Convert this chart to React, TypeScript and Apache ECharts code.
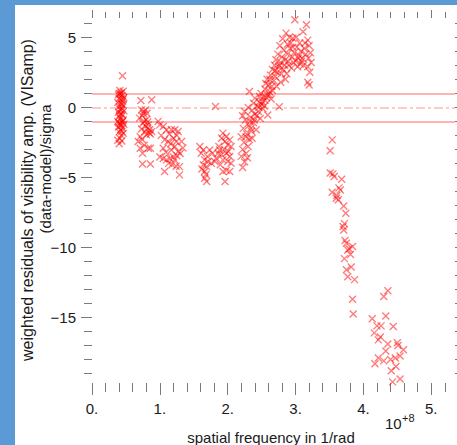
import React, { useEffect, useRef } from "react";
import * as echarts from "echarts";

// spatial frequency (units of 1e8 1/rad), weighted residual (sigma)
const cluster1: number[][] = [
  [0.45, 2.25], [0.41, 1.2], [0.46, 1.15], [0.43, 1.05], [0.39, 0.9], [0.44, 0.85], [0.47, 0.7], [0.40, 0.65],
  [0.42, 0.55], [0.45, 0.45], [0.38, 0.35], [0.43, 0.3], [0.46, 0.15], [0.40, 0.05], [0.44, -0.05], [0.41, -0.15],
  [0.47, -0.25], [0.39, -0.35], [0.43, -0.45], [0.45, -0.55], [0.40, -0.65], [0.42, -0.8], [0.46, -0.9], [0.38, -1.0],
  [0.44, -1.05], [0.41, -1.15], [0.47, -1.2], [0.43, -1.3], [0.39, -1.4], [0.45, -1.5], [0.42, -1.6], [0.40, -1.75],
  [0.46, -1.85], [0.43, -2.0], [0.41, -2.2], [0.38, -2.35], [0.44, -2.4], [0.40, -2.6], [0.42, 0.95], [0.44, 0.2],
  [0.41, -0.55], [0.45, -1.0], [0.39, -1.1], [0.43, -0.2], [0.46, 0.6], [0.40, 1.0], [0.42, -1.25], [0.44, -1.7],
];
const cluster2: number[][] = [
  [0.72, 0.49], [0.88, 0.54], [0.73, -0.18], [0.79, -0.18], [0.81, -0.42], [0.76, -0.3], [0.70, -0.77], [0.80, -0.89],
  [0.74, -0.6], [0.77, -1.0], [0.75, -1.13], [0.83, -1.25], [0.79, -1.35], [0.85, -1.6], [0.88, -1.73], [0.78, -1.73],
  [0.82, -1.5], [0.86, -1.9], [0.80, -1.95], [0.84, -1.8], [0.73, -1.55], [0.71, -2.1], [0.68, -2.44], [0.74, -2.3],
  [0.71, -2.92], [0.745, -3.27], [0.83, -2.92], [0.86, -2.92], [0.77, -2.7], [0.745, -4.04], [0.86, -4.04], [0.76, -0.45],
  [0.82, -1.05],
];
const cluster3: number[][] = [
  [0.975, -1.0], [1.0, -1.25], [1.05, -1.37], [1.10, -1.6], [1.17, -1.6], [1.22, -1.6], [1.27, -1.73], [1.14, -1.9],
  [1.25, -2.0], [1.07, -2.32], [1.12, -2.44], [1.20, -2.2], [1.245, -2.44], [1.32, -2.44], [1.05, -2.92], [1.22, -2.8],
  [1.17, -3.04], [1.27, -3.15], [1.00, -3.55], [1.05, -3.65], [1.10, -3.75], [1.15, -3.65], [1.20, -3.55], [1.22, -3.75],
  [1.25, -3.45], [1.30, -3.3], [1.13, -4.0], [1.18, -4.1], [1.24, -4.2], [1.07, -4.58], [1.29, -4.23], [1.29, -4.82],
  [1.02, -2.0], [1.09, -3.2], [1.34, -2.9], [1.16, -2.6],
];
const cluster4: number[][] = [
  [1.82, 0.06], [1.59, -2.8], [1.64, -3.04], [1.61, -3.27], [1.735, -3.04], [1.775, -3.27], [1.66, -3.75], [1.71, -3.87],
  [1.64, -4.1], [1.69, -4.23], [1.66, -4.58], [1.66, -5.06], [1.69, -5.3], [1.81, -3.87], [1.83, -3.63], [1.86, -3.27],
  [1.88, -3.04], [1.87, -2.8], [1.93, -1.84], [1.91, -2.2], [1.98, -2.08], [1.96, -2.44], [2.03, -2.32], [2.00, -2.68],
  [2.05, -2.8], [1.91, -3.39], [1.98, -3.27], [2.03, -3.51], [1.93, -3.75], [2.00, -3.87], [2.05, -3.99], [1.93, -4.58],
  [1.98, -4.5], [2.03, -4.58], [1.96, -5.3], [1.70, -3.5], [1.62, -4.4], [1.95, -3.0], [2.01, -3.15], [1.89, -4.1],
  [1.68, -4.8], [1.76, -4.0],
];
const cluster5: number[][] = [
  [2.22, -4.3], [2.25, -3.9], [2.20, -3.5], [2.27, -3.3], [2.22, -3.0], [2.30, -2.8], [2.24, -2.5], [2.32, -2.3],
  [2.20, -2.1], [2.28, -1.9], [2.35, -1.7], [2.23, -1.5], [2.31, -1.3], [2.38, -1.1], [2.26, -0.9], [2.34, -0.7],
  [2.22, -0.6], [2.25, -0.3], [2.40, -0.5], [2.36, -0.2], [2.30, 0.0], [2.44, 0.1], [2.38, 0.3], [2.47, 0.4],
  [2.40, 0.66], [2.47, 0.77], [2.32, 1.13], [2.52, 0.75], [2.50, 0.2], [2.55, 0.5], [2.45, -0.3], [2.59, -0.54],
  [2.52, -0.1], [2.58, 0.9], [2.55, 1.3], [2.62, 1.1], [2.60, 1.6], [2.65, 1.5], [2.58, 2.0], [2.68, 1.9],
  [2.63, 2.3], [2.70, 2.2], [2.66, 2.7], [2.73, 2.5], [2.76, 0.04], [2.72, 1.5], [2.69, 3.0], [2.75, 2.9],
  [2.71, 3.4], [2.78, 3.2], [2.74, 3.8], [2.80, 3.6], [2.77, 4.4], [2.83, 4.1], [2.86, 5.3], [2.96, 4.94],
  [2.99, 6.25], [3.16, 5.9], [3.11, 5.4], [2.88, 3.8], [2.92, 4.2], [2.95, 3.6], [2.85, 3.4], [2.90, 3.0],
  [2.98, 3.9], [3.02, 4.3], [3.05, 3.7], [3.08, 4.0], [3.00, 3.3], [3.10, 3.5], [3.13, 4.2], [3.03, 2.9],
  [2.94, 2.8], [3.07, 3.1], [2.82, 2.7], [2.87, 2.4], [3.15, 3.8], [3.18, 4.8], [3.20, 4.4], [3.22, 3.9],
  [3.19, 3.5], [3.23, 3.2], [3.18, 2.9], [3.21, 2.5], [3.18, 1.8], [3.20, 1.6], [3.12, 3.0], [3.06, 4.6],
  [2.93, 4.6], [2.81, 4.9], [3.01, 5.0], [2.85, 2.0], [2.78, 1.8], [2.64, 0.6], [2.48, -0.8], [2.42, -1.6],
  [2.36, -2.2], [2.29, -3.6], [2.33, -1.0], [2.27, -2.1], [2.34, -1.5], [2.39, -0.9], [2.43, -0.6], [2.46, 0.0],
  [2.51, 0.4], [2.54, 0.1], [2.57, 0.7], [2.49, 1.0], [2.61, 0.9], [2.66, 1.2], [2.56, 1.7], [2.62, 2.0],
  [2.70, 2.6], [2.76, 3.0], [2.79, 2.4], [2.84, 3.0], [2.89, 3.3], [2.97, 3.2], [3.04, 3.5], [3.09, 3.3],
  [2.96, 4.3], [3.14, 4.6], [2.91, 5.0], [2.88, 4.5],
];
const cluster6: number[][] = [
  [3.54, -2.32], [3.51, -3.1], [3.51, -4.68], [3.57, -4.94], [3.55, -4.75], [3.68, -5.13], [3.54, -6.06], [3.66, -5.9],
  [3.64, -5.75], [3.60, -6.49], [3.63, -6.6], [3.61, -6.3], [3.71, -7.04], [3.74, -7.56], [3.70, -8.5], [3.71, -8.75],
  [3.72, -8.3], [3.75, -9.7], [3.73, -9.5], [3.84, -9.94], [3.77, -10.18], [3.81, -10.5], [3.79, -10.1], [3.72, -10.8],
  [3.82, -11.4], [3.75, -11.6], [3.77, -12.1], [3.87, -12.3], [3.84, -13.7], [3.85, -14.75], [4.13, -15.1],
];
const cluster7: number[][] = [
  [4.36, -13.1], [4.30, -13.5], [4.33, -14.9], [4.20, -15.6], [4.26, -15.6], [4.44, -15.65], [4.16, -16.1], [4.25, -16.4],
  [4.22, -16.6], [4.36, -16.9], [4.50, -16.8], [4.51, -17.0], [4.33, -17.4], [4.59, -17.3], [4.54, -17.75], [4.22, -17.9],
  [4.40, -18.0], [4.47, -17.9], [4.17, -18.3], [4.30, -18.1], [4.48, -18.5], [4.41, -18.8], [4.43, -19.6], [4.54, -19.4],
];
const residuals = [...cluster1, ...cluster2, ...cluster3, ...cluster4, ...cluster5, ...cluster6, ...cluster7];

const refLevels = [1, 0, -1];

const xMajorTicks = [0, 1, 2, 3, 4, 5];
const xMinorTicks = [0.2, 0.4, 0.6, 0.8, 1.2, 1.4, 1.6, 1.8, 2.2, 2.4, 2.6, 2.8, 3.2, 3.4, 3.6, 3.8, 4.2, 4.4, 4.6, 4.8, 5.2];
const yMajorTicks = [-15, -10, -5, 0, 5];
const yMinorTicks = [-19, -18, -17, -16, -14, -13, -12, -11, -9, -8, -7, -6, -4, -3, -2, -1, 1, 2, 3, 4, 6];
const xRange = [0, 5.35];
const yRange = [-19.68, 6.38];

const FONT = "'Liberation Sans', Arial, Helvetica, sans-serif";
const TICK = "#7a7a7a";
const TXT = "#1a1a1a";

export default function App() {
  const ref = useRef<HTMLDivElement>(null);
  useEffect(() => {
    if (!ref.current) return;
    const chart = echarts.init(ref.current, undefined, { renderer: "svg" });
    const noLine = { show: false, onZero: false };
    const xBase = { type: "value", min: xRange[0], max: xRange[1], axisLine: noLine, splitLine: { show: false } };
    const yBase = { type: "value", min: yRange[0], max: yRange[1], axisLine: noLine, splitLine: { show: false } };
    chart.setOption({
      animation: false,
      backgroundColor: "#ffffff",
      grid: { left: 92, top: 18, right: 2, bottom: 62 },
      xAxis: [
        {
          ...xBase, position: "bottom",
          axisTick: { show: true, customValues: xMajorTicks, length: 12, lineStyle: { color: TICK, width: 1 } },
          axisLabel: {
            show: true, customValues: xMajorTicks, margin: 18, fontSize: 15, color: TXT, fontFamily: FONT,
            formatter: (v: number) => `${v}.`,
          },
        },
        {
          ...xBase, position: "bottom",
          axisTick: { show: true, customValues: xMinorTicks, length: 9, lineStyle: { color: TICK, width: 1 } },
          axisLabel: { show: false },
        },
        {
          ...xBase, position: "top",
          axisTick: { show: true, customValues: xMajorTicks, length: 8, lineStyle: { color: TICK, width: 1 } },
          axisLabel: { show: false },
        },
        {
          ...xBase, position: "top",
          axisTick: { show: true, customValues: xMinorTicks, length: 6, lineStyle: { color: TICK, width: 1 } },
          axisLabel: { show: false },
        },
      ],
      yAxis: [
        {
          ...yBase, position: "left",
          axisTick: { show: true, customValues: yMajorTicks, length: 11, lineStyle: { color: TICK, width: 1 } },
          axisLabel: {
            show: true, customValues: yMajorTicks, margin: 16, fontSize: 15, color: TXT, fontFamily: FONT,
            formatter: (v: number) => (v < 0 ? "\u2212" + Math.abs(v) : String(v)),
          },
        },
        {
          ...yBase, position: "left",
          axisTick: { show: true, customValues: yMinorTicks, length: 8, lineStyle: { color: TICK, width: 1 } },
          axisLabel: { show: false },
        },
        {
          ...yBase, position: "right",
          axisTick: { show: true, customValues: [...yMajorTicks, ...yMinorTicks], length: 8, lineStyle: { color: TICK, width: 1 } },
          axisLabel: { show: false },
        },
      ],
      series: [
        {
          type: "scatter",
          xAxisIndex: 0,
          yAxisIndex: 0,
          data: residuals,
          symbol: "path://M0 0L10 10M10 0L0 10",
          symbolSize: 7,
          itemStyle: { color: "rgba(255,0,0,0)", borderColor: "rgba(255,0,0,0.65)", borderWidth: 1.35 },
          silent: true,
          z: 3,
          markLine: {
            silent: true,
            symbol: ["none", "none"],
            label: { show: false },
            z: 2,
            data: refLevels.map((v) => ({
              yAxis: v,
              lineStyle: v === 0
                ? { color: "#ffb8b8", width: 1.5, type: [9, 3, 3, 3] }
                : { color: "#ffb4b4", width: 2, type: "solid" },
            })),
          },
        },
      ],
      graphic: [
        { type: "rect", shape: { x: 0, y: 0, width: 15, height: 445 }, style: { fill: "#5b9ad5" }, z: 10 },
        { type: "rect", shape: { x: 0, y: 0, width: 457, height: 5 }, style: { fill: "#5b9ad5" }, z: 10 },
        {
          type: "text", x: 27, y: 200, rotation: Math.PI / 2, z: 10,
          style: { text: "weighted residuals of visibility amp. (VISamp)", fontSize: 16, fontFamily: FONT, fill: TXT, textAlign: "center", textVerticalAlign: "middle" },
        },
        {
          type: "text", x: 45, y: 169, rotation: Math.PI / 2, z: 10,
          style: { text: "(data-model)/sigma", fontSize: 15, fontFamily: FONT, fill: TXT, textAlign: "center", textVerticalAlign: "middle" },
        },
        {
          type: "text", x: 271, y: 445, z: 10,
          style: { text: "spatial frequency in 1/rad", fontSize: 15, fontFamily: FONT, fill: TXT, textAlign: "center", textVerticalAlign: "bottom" },
        },
        {
          type: "text", x: 385, y: 416, z: 10,
          style: { text: "10", fontSize: 15, fontFamily: FONT, fill: TXT, textAlign: "left", textVerticalAlign: "top" },
        },
        {
          type: "text", x: 402, y: 412, z: 10,
          style: { text: "+8", fontSize: 11, fontFamily: FONT, fill: TXT, textAlign: "left", textVerticalAlign: "top" },
        },
      ],
    });
    return () => chart.dispose();
  }, []);
  return <div ref={ref} style={{ position: "fixed", left: 0, top: 0, width: 457, height: 445 }} />;
}
